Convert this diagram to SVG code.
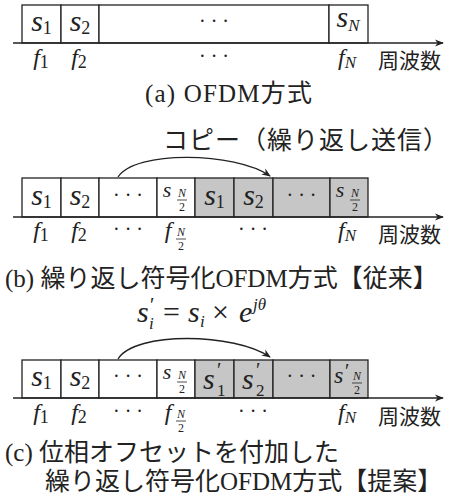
<svg xmlns="http://www.w3.org/2000/svg" width="449" height="494" viewBox="0 0 449 494">
<defs>
<style>
.bx{fill:#fff;stroke:#222;stroke-width:1.3}
.g{fill:#c6c6c6}
.m{font-family:"Liberation Serif","DejaVu Serif",serif;font-size:30px;fill:#222}
.i{font-style:italic}
.sub{font-size:18px;font-style:normal}
.si{font-size:17px;font-style:italic}
.fr{font-family:"Liberation Serif","DejaVu Serif",serif;font-size:12px;fill:#222}
.dots{font-family:"Liberation Serif","DejaVu Serif",serif;font-size:20px;fill:#222}
.fl{font-family:"Liberation Serif","DejaVu Serif",serif;font-size:24px;fill:#222}
.cap{font-family:"Liberation Serif","DejaVu Serif","Noto Sans CJK JP",serif;font-size:25px;fill:#222}
.jp{font-family:"Noto Sans CJK JP",sans-serif;font-size:21px;fill:#222}
.ax{stroke:#222;stroke-width:1.3;fill:none}
.fb{stroke:#222;stroke-width:0.8}
</style>
<marker id="ah" viewBox="0 0 10 10" refX="9" refY="5" markerWidth="9" markerHeight="9" markerUnits="userSpaceOnUse" orient="auto">
<path d="M0,1 L10,5 L0,9 L3,5 Z" fill="#222"/>
</marker>
</defs>
<rect width="449" height="494" fill="#fff"/>

<!-- (a) -->
<g id="a-s1"><rect class="bx" x="22" y="5" width="39" height="38"/><text class="m" x="41.5" y="31" text-anchor="middle"><tspan class="i">s</tspan><tspan class="sub" dy="3">1</tspan></text></g>
<g id="a-s2"><rect class="bx" x="61" y="5" width="38" height="38"/><text class="m" x="80" y="31" text-anchor="middle"><tspan class="i">s</tspan><tspan class="sub" dy="3">2</tspan></text></g>
<g id="a-dots"><rect class="bx" x="99" y="5" width="230" height="38"/><text class="dots" x="214" y="28" text-anchor="middle">· · ·</text></g>
<g id="a-sN"><rect class="bx" x="329" y="5" width="39" height="38"/><text class="m" x="348" y="27" text-anchor="middle"><tspan class="i">s</tspan><tspan class="si" dy="4">N</tspan></text></g>
<g id="a-flabels">
<text class="fl" x="41" y="65" text-anchor="middle"><tspan class="i">f</tspan><tspan class="sub" dy="3">1</tspan></text>
<text class="fl" x="79" y="65" text-anchor="middle"><tspan class="i">f</tspan><tspan class="sub" dy="3">2</tspan></text>
<text class="dots" x="214" y="63" text-anchor="middle">· · ·</text>
<text class="fl" x="347" y="65" text-anchor="middle"><tspan class="i">f</tspan><tspan class="si" dy="3">N</tspan></text>
<text class="jp" x="378" y="68">周波数</text>
</g>
<text class="cap" x="145" y="102" textLength="167" lengthAdjust="spacing">(a) OFDM方式</text>

<!-- (b) -->
<text class="jp" x="163 189 215 241 267 293 319 345 371 397 423" y="149" style="font-size:25px">コピー（繰り返し送信）</text>
<g id="b-s1"><rect class="bx" x="22" y="178" width="39" height="39"/><text class="m" x="41.5" y="205" text-anchor="middle"><tspan class="i">s</tspan><tspan class="sub" dy="3">1</tspan></text></g>
<g id="b-s2"><rect class="bx" x="61" y="178" width="38" height="39"/><text class="m" x="80" y="205" text-anchor="middle"><tspan class="i">s</tspan><tspan class="sub" dy="3">2</tspan></text></g>
<g id="b-dots"><rect class="bx" x="99" y="178" width="58" height="39"/><text class="dots" x="128" y="202" text-anchor="middle">· · ·</text></g>
<g id="b-sN2"><rect class="bx" x="157" y="178" width="38" height="39"/><text class="m i" x="167" y="197" text-anchor="middle" style="font-size:22px">s</text><text class="fr i" x="182" y="197" text-anchor="middle">N</text><line class="fb" x1="177" y1="200" x2="187" y2="200"/><text class="fr" x="182" y="211" text-anchor="middle">2</text></g>
<g id="b-c1"><rect class="bx g" x="195" y="178" width="39" height="39"/><text class="m" x="214.5" y="205" text-anchor="middle"><tspan class="i">s</tspan><tspan class="sub" dy="3">1</tspan></text></g>
<g id="b-c2"><rect class="bx g" x="234" y="178" width="39" height="39"/><text class="m" x="253.5" y="205" text-anchor="middle"><tspan class="i">s</tspan><tspan class="sub" dy="3">2</tspan></text></g>
<g id="b-cdots"><rect class="bx g" x="273" y="178" width="57" height="39"/><text class="dots" x="301.5" y="202" text-anchor="middle">· · ·</text></g>
<g id="b-cN2"><rect class="bx g" x="330" y="178" width="38" height="39"/><text class="m i" x="340" y="197" text-anchor="middle" style="font-size:22px">s</text><text class="fr i" x="355" y="197" text-anchor="middle">N</text><line class="fb" x1="350" y1="200" x2="360" y2="200"/><text class="fr" x="355" y="211" text-anchor="middle">2</text></g>
<g id="b-flabels">
<text class="fl" x="41" y="238" text-anchor="middle"><tspan class="i">f</tspan><tspan class="sub" dy="3">1</tspan></text>
<text class="fl" x="79" y="238" text-anchor="middle"><tspan class="i">f</tspan><tspan class="sub" dy="3">2</tspan></text>
<text class="dots" x="128" y="236" text-anchor="middle">· · ·</text>
<text class="fl i" x="168" y="238" text-anchor="middle">f</text><text class="fr i" x="181" y="236" text-anchor="middle">N</text><line class="fb" x1="176" y1="239" x2="186" y2="239"/><text class="fr" x="181" y="250" text-anchor="middle">2</text>
<text class="dots" x="253" y="236" text-anchor="middle">· · ·</text>
<text class="fl" x="347" y="238" text-anchor="middle"><tspan class="i">f</tspan><tspan class="si" dy="3">N</tspan></text>
<text class="jp" x="378" y="242">周波数</text>
</g>
<text class="cap" x="5" y="287">(b) 繰り返し符号化OFDM方式【従来】</text>

<!-- (c) -->
<text class="m" style="font-size:30px"><tspan class="i" x="137" y="322">s</tspan><tspan style="font-size:20px" x="150" y="312">′</tspan><tspan class="si" x="149" y="329">i</tspan><tspan x="163" y="322">=</tspan><tspan class="i" x="188" y="322">s</tspan><tspan class="si" x="200" y="327">i</tspan><tspan x="212" y="322">×</tspan><tspan class="i" x="239" y="322">e</tspan><tspan class="si" x="253" y="310">jθ</tspan></text>
<g id="c-s1"><rect class="bx" x="22" y="360" width="39" height="38"/><text class="m" x="41.5" y="386" text-anchor="middle"><tspan class="i">s</tspan><tspan class="sub" dy="3">1</tspan></text></g>
<g id="c-s2"><rect class="bx" x="61" y="360" width="38" height="38"/><text class="m" x="80" y="386" text-anchor="middle"><tspan class="i">s</tspan><tspan class="sub" dy="3">2</tspan></text></g>
<g id="c-dots"><rect class="bx" x="99" y="360" width="58" height="38"/><text class="dots" x="128" y="383" text-anchor="middle">· · ·</text></g>
<g id="c-sN2"><rect class="bx" x="157" y="360" width="38" height="38"/><text class="m i" x="167" y="379" text-anchor="middle" style="font-size:22px">s</text><text class="fr i" x="182" y="379" text-anchor="middle">N</text><line class="fb" x1="177" y1="382" x2="187" y2="382"/><text class="fr" x="182" y="393" text-anchor="middle">2</text></g>
<g id="c-c1"><rect class="bx g" x="195" y="360" width="39" height="38"/><text class="m"><tspan class="i" x="203" y="389">s</tspan><tspan style="font-size:20px" x="217" y="377">′</tspan><tspan style="font-size:17px" x="217" y="396">1</tspan></text></g>
<g id="c-c2"><rect class="bx g" x="234" y="360" width="39" height="38"/><text class="m"><tspan class="i" x="242" y="389">s</tspan><tspan style="font-size:20px" x="256" y="377">′</tspan><tspan style="font-size:17px" x="256" y="396">2</tspan></text></g>
<g id="c-cdots"><rect class="bx g" x="273" y="360" width="57" height="38"/><text class="dots" x="301.5" y="383" text-anchor="middle">· · ·</text></g>
<g id="c-cN2"><rect class="bx g" x="330" y="360" width="38" height="38"/><text class="m"><tspan class="i" x="334" y="383" style="font-size:24px">s</tspan><tspan style="font-size:20px" x="345" y="378">′</tspan></text><text class="fr i" x="357" y="380" text-anchor="middle">N</text><line class="fb" x1="352" y1="383" x2="362" y2="383"/><text class="fr" x="357" y="394" text-anchor="middle">2</text></g>
<g id="c-flabels">
<text class="fl" x="41" y="420" text-anchor="middle"><tspan class="i">f</tspan><tspan class="sub" dy="3">1</tspan></text>
<text class="fl" x="79" y="420" text-anchor="middle"><tspan class="i">f</tspan><tspan class="sub" dy="3">2</tspan></text>
<text class="dots" x="128" y="418" text-anchor="middle">· · ·</text>
<text class="fl i" x="168" y="420" text-anchor="middle">f</text><text class="fr i" x="181" y="418" text-anchor="middle">N</text><line class="fb" x1="176" y1="421" x2="186" y2="421"/><text class="fr" x="181" y="432" text-anchor="middle">2</text>
<text class="dots" x="253" y="418" text-anchor="middle">· · ·</text>
<text class="fl" x="347" y="420" text-anchor="middle"><tspan class="i">f</tspan><tspan class="si" dy="3">N</tspan></text>
<text class="jp" x="378" y="424">周波数</text>
</g>
<text class="cap" x="5" y="461">(c) 位相オフセットを付加した</text>
<text class="cap" x="45" y="490">繰り返し符号化OFDM方式【提案】</text>

<g id="connectors">
<line class="ax" x1="13" y1="43" x2="443" y2="43" marker-end="url(#ah)"/>
<line class="ax" x1="13" y1="217" x2="443" y2="217" marker-end="url(#ah)"/>
<line class="ax" x1="13" y1="398" x2="443" y2="398" marker-end="url(#ah)"/>
<path class="ax" d="M118,177 C135,150 235,152 270,176" marker-end="url(#ah)"/>
<path class="ax" d="M118,359 C135,331 235,333 270,357" marker-end="url(#ah)"/>
</g>
</svg>
